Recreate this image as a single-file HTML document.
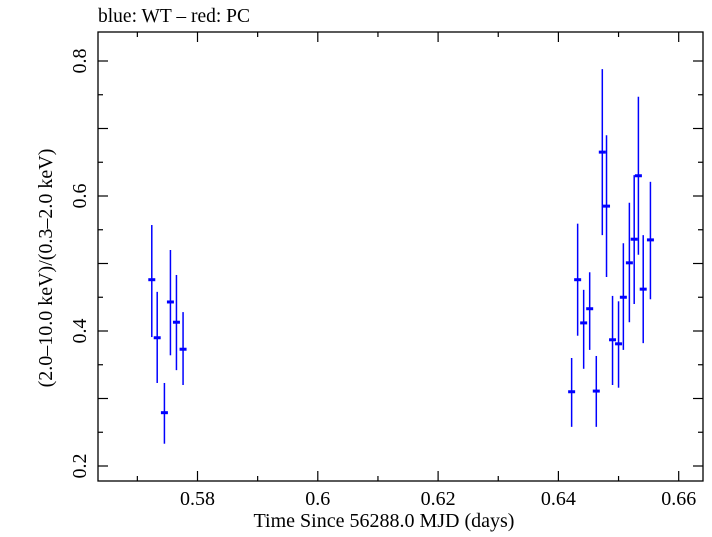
<!DOCTYPE html>
<html><head><meta charset="utf-8"><style>
body{margin:0;background:#fff;}
svg text{font-family:"Liberation Serif",serif;fill:#000;}
</style></head><body>
<svg id="chart" width="712" height="532" xmlns="http://www.w3.org/2000/svg">
<text x="98" y="22" font-size="19.5">blue: WT – red: PC</text>
<rect x="98" y="32" width="605" height="449" fill="none" stroke="#000" stroke-width="1.3"/>
<g id="axes"></g>
<g id="series"></g>
<text x="384" y="527" font-size="20" text-anchor="middle">Time Since 56288.0 MJD (days)</text>
<text transform="translate(52,268) rotate(-90)" font-size="20" text-anchor="middle">(2.0–10.0 keV)/(0.3–2.0 keV)</text>
</svg>
<script>
const times=[0.5724,0.5733,0.5745,0.5755,0.5765,0.5776,0.6422,0.6432,0.6442,0.6452,0.6463,0.6473,0.6480,0.6490,0.6500,0.6508,0.6518,0.6526,0.6533,0.6541,0.6553];
const ratios=[0.476,0.390,0.279,0.443,0.413,0.373,0.310,0.476,0.412,0.433,0.311,0.665,0.585,0.387,0.381,0.450,0.501,0.536,0.630,0.462,0.535];
const errLow=[0.391,0.323,0.233,0.364,0.342,0.320,0.258,0.393,0.344,0.372,0.258,0.542,0.480,0.320,0.316,0.372,0.413,0.440,0.513,0.382,0.447];
const errHigh=[0.557,0.458,0.323,0.520,0.483,0.428,0.360,0.559,0.461,0.487,0.363,0.788,0.690,0.452,0.444,0.530,0.590,0.631,0.747,0.542,0.621];
const xTickLabels=["0.58","0.6","0.62","0.64","0.66"];
const yTickLabels=["0.2","0.4","0.6","0.8"];
const NS="http://www.w3.org/2000/svg";
const L=98,R=703,T=32,B=481;
function xs(v){return 197.5+(v-0.58)*6015;}
function ys(v){return 331-(v-0.4)*675;}
function mk(tag,attrs,parent){const e=document.createElementNS(NS,tag);for(const k in attrs)e.setAttribute(k,attrs[k]);parent.appendChild(e);return e;}
const ax=document.getElementById('axes');
for(let i=0;i<=10;i++){const v=0.57+i*0.01;const x=xs(v);if(x<L||x>R)continue;const major=i%2===1;const len=major?10:5;
 const t1=mk('line',{x1:x,x2:x,y1:B,y2:B-len,stroke:'#000','stroke-width':1.2},ax);
 
 
 const t2=mk('line',{x1:x,x2:x,y1:T,y2:T+len,stroke:'#000','stroke-width':1.2},ax);
 
 }
xTickLabels.forEach(s=>{const t=mk('text',{x:xs(parseFloat(s)),y:505,'font-size':20,'text-anchor':'middle'},ax);t.textContent=s;
 
 });
for(let i=0;i<=14;i++){const v=0.15+i*0.05;const y=ys(v);if(y<T||y>B)continue;const major=Math.round(v*100)%10===0;const len=major?10:5;
 const t1=mk('line',{x1:L,x2:L+len,y1:y,y2:y,stroke:'#000','stroke-width':1.2},ax);
 
 
 const t2=mk('line',{x1:R,x2:R-len,y1:y,y2:y,stroke:'#000','stroke-width':1.2},ax);
 
 }
yTickLabels.forEach(s=>{const y=ys(parseFloat(s));const t=mk('text',{transform:`translate(86,${y}) rotate(-90)`,'font-size':20,'text-anchor':'middle'},ax);t.textContent=s;
 
 });
const sg=document.getElementById('series');
times.forEach((tv,i)=>{const x=xs(tv);
 const e=mk('line',{x1:x,x2:x,y1:ys(errHigh[i]),y2:ys(errLow[i]),stroke:'#0000ff','stroke-width':1.5},sg);
 
 
 const p=mk('line',{x1:x-3.5,x2:x+3.5,y1:ys(ratios[i]),y2:ys(ratios[i]),stroke:'#0000ff','stroke-width':3},sg);
 
 });
</script>
</body></html>
